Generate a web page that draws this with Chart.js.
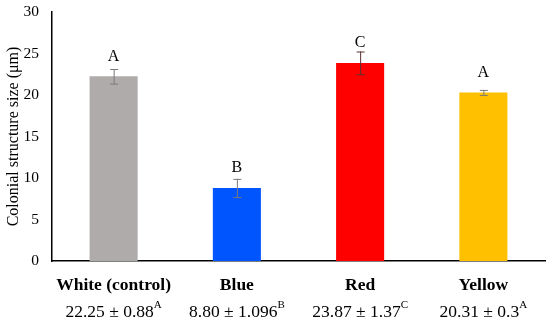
<!DOCTYPE html>
<html>
<head>
<meta charset="utf-8">
<script src="https://cdn.jsdelivr.net/npm/chart.js@4/dist/chart.umd.min.js"></script>
<style>
  html, body { margin: 0; padding: 0; background: #fff; }
  #wrap { width: 550px; height: 323px; }
</style>
</head>
<body>
<div id="wrap"><canvas id="chart"></canvas></div>
<script>
// data
const categories = ['White (control)', 'Blue', 'Red', 'Yellow'];
const means = [22.25, 8.80, 23.87, 20.31];
const sds = [0.88, 1.096, 1.37, 0.3];
const meanLabels = ['22.25', '8.80', '23.87', '20.31'];
const sdLabels = ['0.88', '1.096', '1.37', '0.3'];
const groups = ['A', 'B', 'C', 'A'];
const yTicks = [0, 5, 10, 15, 20, 25, 30];

const serif = '"Liberation Serif", "DejaVu Serif", serif';

// error bars, letters and the two-line category labels
const extras = {
  id: 'extras',
  afterDatasetsDraw(chart) {
    const ctx = chart.ctx;
    const x = chart.scales.x;
    const y = chart.scales.y;
    ctx.save();
    means.forEach((m, i) => {
      const cx = x.getPixelForValue(i);
      const top = y.getPixelForValue(m + sds[i]);
      const bot = y.getPixelForValue(m - sds[i]);
      ctx.strokeStyle = i === 2 ? '#5a3030' : '#7a7a7a';
      ctx.lineWidth = 1;
      ctx.beginPath();
      ctx.moveTo(cx + 0.5, top); ctx.lineTo(cx + 0.5, bot);
      ctx.moveTo(cx - 3.5, top + 0.5); ctx.lineTo(cx + 4.5, top + 0.5);
      ctx.moveTo(cx - 3.5, bot + 0.5); ctx.lineTo(cx + 4.5, bot + 0.5);
      ctx.stroke();

      // significance letter above the bar
      ctx.fillStyle = '#000';
      ctx.font = '16px ' + serif;
      ctx.textAlign = 'center';
      ctx.textBaseline = 'middle';
      ctx.fillText(groups[i], cx, y.getPixelForValue(m) - 20);

      // category name
      ctx.font = 'bold 17.5px ' + serif;
      ctx.fillText(categories[i], cx, 285);

      // mean ± sd with superscript letter
      const main = meanLabels[i] + ' \u00b1 ' + sdLabels[i];
      ctx.font = '17.5px ' + serif;
      const w1 = ctx.measureText(main).width;
      ctx.font = '11px ' + serif;
      const w2 = ctx.measureText(groups[i]).width;
      const start = cx - (w1 + w2) / 2;
      ctx.textAlign = 'left';
      ctx.font = '17.5px ' + serif;
      ctx.fillText(main, start, 312);
      ctx.font = '11px ' + serif;
      ctx.fillText(groups[i], start + w1, 305);
    });
    ctx.restore();
  }
};

new Chart(document.getElementById('chart'), {
  type: 'bar',
  data: {
    labels: categories,
    datasets: [{
      data: means,
      backgroundColor: ['#afabab', '#0055ff', '#ff0000', '#ffc000'],
      borderWidth: 0,
      categoryPercentage: 1,
      barPercentage: 0.39
    }]
  },
  options: {
    responsive: true,
    maintainAspectRatio: false,
    animation: false,
    layout: { padding: { top: 12, right: 5, bottom: 62, left: 4 } },
    plugins: { legend: { display: false }, tooltip: { enabled: false } },
    scales: {
      x: {
        grid: { display: false, drawTicks: false },
        border: { color: '#000', width: 1.5 },
        ticks: { display: false },
        afterFit(axis) { axis.paddingLeft = 0; axis.paddingRight = 0; }
      },
      y: {
        min: 0,
        max: 30,
        afterBuildTicks(axis) { axis.ticks = yTicks.map(v => ({ value: v })); },
        afterFit(axis) { axis.width = 48; axis.paddingTop = 0; axis.paddingBottom = 0; },
        grid: { display: false, drawTicks: false },
        border: { color: '#000', width: 1.5 },
        ticks: { color: '#000', padding: 13, font: { family: serif, size: 15.5 } },
        title: {
          display: true,
          text: 'Colonial structure size (\u03bcm)',
          color: '#000',
          padding: 0,
          font: { family: serif, size: 16 }
        }
      }
    }
  },
  plugins: [extras]
});
</script>
</body>
</html>
